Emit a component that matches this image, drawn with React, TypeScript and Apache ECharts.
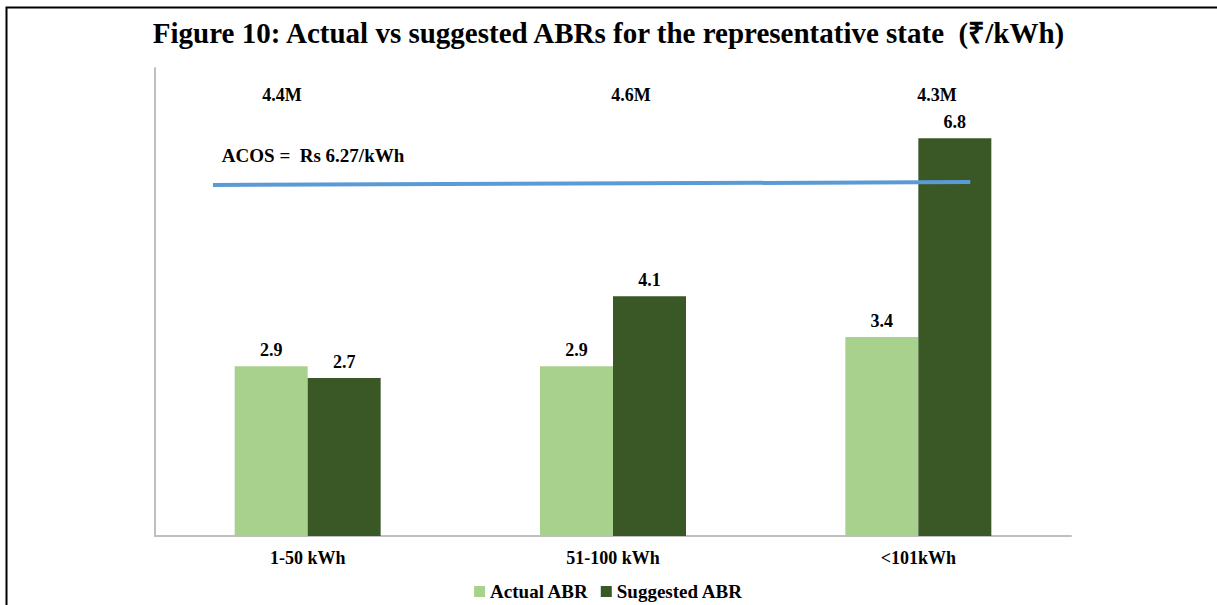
import React, { useEffect, useRef } from "react";
import * as echarts from "echarts";

const categories = ["1-50 kWh", "51-100 kWh", "<101kWh"];
const actualABR = [2.9, 2.9, 3.4];
const suggestedABR = [2.7, 4.1, 6.8];
const consumerLabels = ["4.4M", "4.6M", "4.3M"];
// positions of consumer-count labels on a hidden 0..3 value axis spanning the categories
const consumerPos: [number, number][] = [
  [0.416, 7.54],
  [1.559, 7.54],
  [2.561, 7.54],
];
const acosLabel = "ACOS =  Rs 6.27/kWh";
const acosLine: [number, number][] = [
  [0.19, 6.0],
  [2.67, 6.05],
];
const acosLabelPos: [number, number][] = [[0.219, 6.51]];

const FONT = "'Liberation Serif', 'Times New Roman', serif";

export default function App() {
  const ref = useRef<HTMLDivElement>(null);
  useEffect(() => {
    if (!ref.current) return;
    const chart = echarts.init(ref.current, undefined, { renderer: "svg" });
    chart.setOption({
      animation: false,
      backgroundColor: "#ffffff",
      title: {
        text: "Figure 10: Actual vs suggested ABRs for the representative state  (₹/kWh)",
        left: "center",
        top: 13,
        textStyle: { fontFamily: FONT, fontWeight: "bold", fontSize: 29, color: "#000" },
      },
      graphic: [
        {
          type: "polyline",
          shape: { points: [[6.5, 605], [6.5, 7.5], [1217, 7.5]] },
          style: { stroke: "#000", lineWidth: 2, fill: "none" },
          silent: true,
        },
      ],
      legend: {
        data: ["Actual ABR", "Suggested ABR"],
        top: 577,
        left: "center",
        icon: "rect",
        itemWidth: 11,
        itemHeight: 11,
        itemGap: 12,
        textStyle: { fontFamily: FONT, fontWeight: "bold", fontSize: 19, color: "#000" },
      },
      grid: { left: 155, right: 146, top: 68, bottom: 69 },
      xAxis: [
        {
          type: "category",
          data: categories,
          axisLine: { lineStyle: { color: "#BFBFBF", width: 2 } },
          axisTick: { show: false },
          axisLabel: {
            fontFamily: FONT,
            fontWeight: "bold",
            fontSize: 18,
            color: "#000",
            margin: 13,
          },
        },
        { type: "value", min: 0, max: 3, show: false },
      ],
      yAxis: {
        type: "value",
        min: 0,
        max: 8,
        axisLine: { show: true, lineStyle: { color: "#BFBFBF", width: 2 } },
        axisTick: { show: false },
        axisLabel: { show: false },
        splitLine: { show: false },
      },
      series: [
        {
          name: "Actual ABR",
          type: "bar",
          data: actualABR,
          barWidth: 73,
          barGap: "0%",
          itemStyle: { color: "#A9D18E" },
          label: {
            show: true,
            position: "top",
            distance: 7,
            fontFamily: FONT,
            fontWeight: "bold",
            fontSize: 18,
            color: "#000",
          },
        },
        {
          name: "Suggested ABR",
          type: "bar",
          data: suggestedABR,
          barWidth: 73,
          barGap: "0%",
          itemStyle: { color: "#3A5726" },
          label: {
            show: true,
            position: "top",
            distance: 7,
            fontFamily: FONT,
            fontWeight: "bold",
            fontSize: 18,
            color: "#000",
          },
        },
        {
          name: "ACOS",
          type: "line",
          xAxisIndex: 1,
          data: acosLine,
          symbol: "none",
          lineStyle: { color: "#5B9BD5", width: 4 },
          silent: true,
        },
        {
          name: "ACOS label",
          type: "scatter",
          xAxisIndex: 1,
          data: acosLabelPos,
          symbolSize: 0,
          itemStyle: { color: "transparent", opacity: 1 },
          label: {
            show: true,
            position: "right",
            distance: 0,
            formatter: acosLabel,
            fontFamily: FONT,
            fontWeight: "bold",
            fontSize: 19,
            color: "#000",
            textBorderWidth: 0,
            opacity: 1,
          },
          silent: true,
        },
        {
          name: "Consumers",
          type: "scatter",
          xAxisIndex: 1,
          data: consumerPos.map((p, i) => ({ value: p, name: consumerLabels[i] })),
          symbolSize: 0,
          itemStyle: { color: "transparent", opacity: 1 },
          label: {
            show: true,
            position: "inside",
            formatter: (p: any) => p.name,
            fontFamily: FONT,
            fontWeight: "bold",
            fontSize: 18,
            color: "#000",
            textBorderWidth: 0,
            opacity: 1,
          },
          silent: true,
        },
      ],
    });
    return () => chart.dispose();
  }, []);
  return (
    <div
      ref={ref}
      style={{ position: "fixed", left: 0, top: 0, width: 1217, height: 605 }}
    />
  );
}
